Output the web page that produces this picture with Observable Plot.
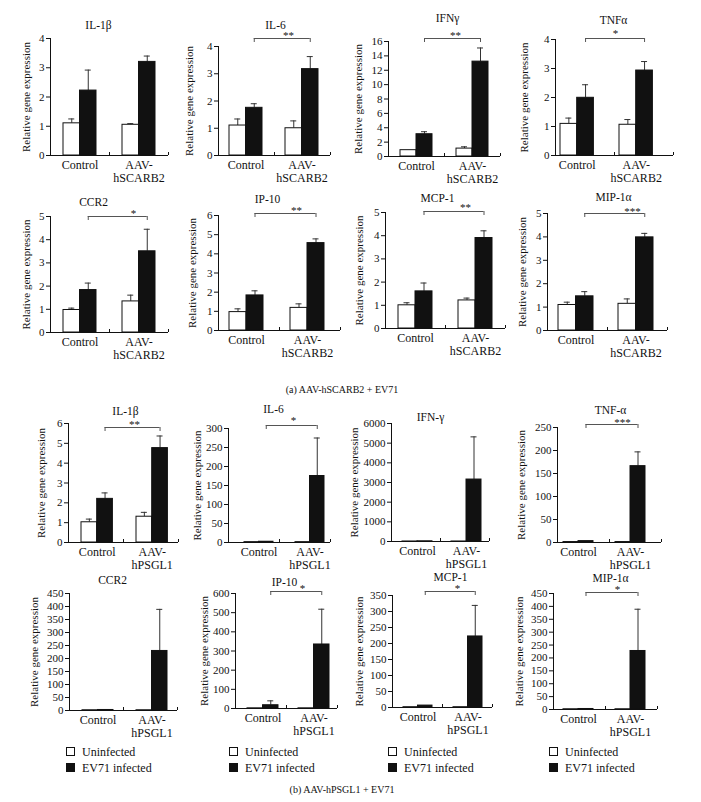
<!DOCTYPE html>
<html><head><meta charset="utf-8">
<script src="https://cdn.jsdelivr.net/npm/d3@7"></script>
<script src="https://cdn.jsdelivr.net/npm/@observablehq/plot@0.6"></script>
<style>
body{margin:0;background:#fff;}
#fig{position:relative;width:701px;height:802px;background:#fff;font-family:"Liberation Serif","Times New Roman",serif;color:#111;overflow:hidden}
#fig svg{position:absolute;overflow:visible}
.caption{position:absolute;font-size:10px;line-height:12px;width:240px;text-align:center}
.legend{position:absolute;font-size:12px;line-height:16px;white-space:nowrap}
.sw{display:inline-block;width:7px;height:7px;border:1px solid #111;margin-right:7px;vertical-align:0px}
</style></head><body><div id="fig"></div>
<script>
// ---------- data ----------
const conditions = ["Uninfected", "EV71 infected"];
const groupsA = ["Control", "AAV-hSCARB2"];
const groupsB = ["Control", "AAV-hPSGL1"];
const genesA = ["IL-1β", "IL-6", "IFNγ", "TNFα", "CCR2", "IP-10", "MCP-1", "MIP-1α"];
const genesB = ["IL-1β", "IL-6", "IFN-γ", "TNF-α", "CCR2", "IP-10", "MCP-1", "MIP-1α"];

// (a) AAV-hSCARB2 + EV71 : bar means and error-bar tops
const aCtrlUninf    = [1.10, 1.10, 0.88, 1.09, 0.97, 0.96, 1.00, 1.09];
const aCtrlUninfErr = [1.25, 1.34, 0.88, 1.29, 1.05, 1.13, 1.11, 1.21];
const aCtrlInf      = [2.22, 1.75, 3.10, 1.99, 1.83, 1.83, 1.60, 1.46];
const aCtrlInfErr   = [2.92, 1.90, 3.45, 2.44, 2.13, 2.07, 1.96, 1.66];
const aAavUninf     = [1.05, 1.00, 1.10, 1.06, 1.34, 1.18, 1.21, 1.14];
const aAavUninfErr  = [1.09, 1.27, 1.35, 1.24, 1.61, 1.39, 1.31, 1.35];
const aAavInf       = [3.20, 3.17, 13.2, 2.93, 3.50, 4.56, 3.90, 3.98];
const aAavInfErr    = [3.40, 3.63, 15.1, 3.24, 4.45, 4.78, 4.21, 4.15];
const aYMax  = [4, 4, 16, 4, 5, 6, 5, 5];
const aYStep = [1, 1, 2, 1, 1, 1, 1, 1];
const aSig   = ["", "**", "**", "*", "*", "**", "**", "***"];

// (b) AAV-hPSGL1 + EV71
const bCtrlUninf    = [1.02, 1, 1, 1, 1, 1, 1, 1];
const bCtrlUninfErr = [1.18, 1, 1, 1, 1, 1, 1, 1];
const bCtrlInf      = [2.20, 2, 10, 3, 2, 17, 6, 2];
const bCtrlInfErr   = [2.50, 2, 10, 3, 2, 40, 6, 2];
const bAavUninf     = [1.30, 1, 1, 1, 1, 1, 1, 1];
const bAavUninfErr  = [1.52, 1, 1, 1, 1, 1, 1, 1];
const bAavInf       = [4.76, 175, 3150, 166, 229, 334, 222, 227];
const bAavInfErr    = [5.37, 275, 5320, 197, 389, 518, 319, 389];
const bYMax  = [6, 300, 6000, 250, 450, 600, 350, 450];
const bYStep = [1, 50, 1000, 50, 50, 100, 50, 50];
const bSig   = ["**", "*", "", "***", "", "*", "*", "*"];

const yLabel = "Relative gene expression";
const captionA = "(a)  AAV-hSCARB2 + EV71";
const captionB = "(b)  AAV-hPSGL1 + EV71";

// ---------- layout (pixels) ----------
// [axisX, topY, zeroY, groupW, gap, barW, titleX, titleDy, bracketDy, labelOffset, starX, starDy]
const layoutA = [
  [50, 38, 155, 59, 13, 16.5, 48, -13, 0, 28, 0, 0],
  [218, 46, 155, 56, 11, 16.5, 57, -21, -8, 33, 70, -11],
  [388, 41, 156, 56, 12, 16, 59, -23, -3, 34, 67, -6],
  [555, 39, 155, 59, 5, 16.7, 58, -19, -1, 35, 60, -6],
  [50, 216, 332, 59, 13, 16.5, 43, -14, 0, 28, 83, -3],
  [218, 215, 330, 61, 11, 17, 49, -16, -2, 30, 78, -5],
  [385, 212, 328, 60, 13, 17, 52, -14, -1, 30, 80, -5],
  [547, 213, 330, 60, 11, 17.5, 66, -16, 0, 29, 85, -2]
];
const layoutB = [
  [68, 423, 542, 55, 13, 15.7, 57, -12, 4, 31, 66, 1],
  [228, 428, 542, 51, 16, 14.5, 45, -19, -3, 35, 65, -8],
  [391, 423, 541, 49, 11, 15, 39, -6, 0, 41, 0, 0],
  [557, 427, 542, 52, 6, 15, 53, -17, -3, 40, 65, -5],
  [69, 593, 710, 54, 13, 15.5, 43, -13, 0, 39, 0, 0],
  [235, 593, 708, 51, 12, 15.5, 49, -11, -2, 35, 67, -5],
  [392, 595, 707, 50, 11, 14.5, 58, -18, -4, 37, 65, -7],
  [553, 593, 709, 52, 10, 15, 57, -15, -1, 38, 64, -4]
];
const legendX = [70, 233, 392, 553];

const fig = document.getElementById("fig");

function drawPanel(gene, groups, vals, errs, yMax, yStep, sig, L) {
  const [axisX, topY, botY, W, g, bw, tdx, tdy, bdy, lo, sx, sdy] = L;
  const mL = 60, mR = 20, mT = 40, mB = 40;
  const width = mL + 2 * W + mR, height = mT + (botY - topY) + mB;
  const rows = [];
  groups.forEach((grp, gi) => conditions.forEach((c, ci) =>
    rows.push({group: grp, cond: c, value: vals[gi * 2 + ci], err: errs[gi * 2 + ci]})));
  const uninf = rows.filter(d => d.cond === conditions[0]);
  const inf = rows.filter(d => d.cond === conditions[1]);
  const eU = uninf.filter(d => d.err > d.value);
  const eI = inf.filter(d => d.err > d.value);
  const cU = g + bw / 2, cI = g + 1.5 * bw;
  const marks = [
    Plot.ruleY([0], {stroke: "#111"}),
    Plot.ruleX(groups, {x: d => d, y1: () => 0, y2: () => 0, insetBottom: 3, dx: W / 2, stroke: "#111"}),
    Plot.ruleX(eU, {x: "group", y1: "value", y2: "err", dx: cU - W / 2, stroke: "#333"}),
    Plot.ruleX(eI, {x: "group", y1: "value", y2: "err", dx: cI - W / 2, stroke: "#333"}),
    Plot.tickY(eU, {x: "group", y: "err", insetLeft: cU - 3, insetRight: W - cU - 3, stroke: "#333"}),
    Plot.tickY(eI, {x: "group", y: "err", insetLeft: cI - 3, insetRight: W - cI - 3, stroke: "#333"}),
    Plot.barY(uninf, {x: "group", y: "value", fill: "white", stroke: "#111", insetLeft: g, insetRight: W - g - bw}),
    Plot.barY(inf, {x: "group", y: "value", fill: "#111", stroke: "#111", insetLeft: g + bw, insetRight: W - g - 2 * bw}),
    Plot.text(groups, {x: d => d, frameAnchor: "bottom", text: d => d.replace("-", "-\n"),
      lineAnchor: "top", lineHeight: 1.05, dy: 5, dx: g + bw - W / 2, fontSize: 12, fill: "#111"}),
    Plot.text([gene], {frameAnchor: "top", dx: tdx - W, dy: tdy, lineAnchor: "middle", fontSize: 11.5, fill: "#111"})
  ];
  if (sig) {
    marks.push(
      Plot.tickY([groups[0]], {x: d => d, y: () => yMax, insetLeft: cI, insetRight: 0, dy: bdy, stroke: "#555"}),
      Plot.tickY([groups[1]], {x: d => d, y: () => yMax, insetLeft: 0, insetRight: W - cI, dy: bdy, stroke: "#555"}),
      Plot.ruleX(groups, {x: d => d, y1: () => yMax, y2: () => yMax, insetBottom: -4, dx: cI - W / 2, dy: bdy, stroke: "#555"}),
      Plot.text([sig], {frameAnchor: "top", y: () => yMax, dx: sx - W, dy: sdy, lineAnchor: "middle", fontSize: 11, fill: "#111"})
    );
  }
  const svg = Plot.plot({
    width, height, marginLeft: mL, marginRight: mR, marginTop: mT, marginBottom: mB,
    style: {fontFamily: "Liberation Serif, Times New Roman, serif", fontSize: "11px", background: "transparent", color: "#111", overflow: "visible"},
    x: {type: "band", domain: groups, paddingInner: 0, paddingOuter: 0, axis: null},
    y: {domain: [0, yMax], ticks: d3.range(0, yMax + yStep / 2, yStep), tickFormat: d3.format("d"),
        tickSize: 4, tickPadding: 2, line: true, label: yLabel, labelAnchor: "center", labelOffset: lo, labelArrow: "none"},
    marks
  });
  svg.style.left = (axisX - mL) + "px";
  svg.style.top = (topY - mT) + "px";
  fig.appendChild(svg);
}

for (let i = 0; i < 8; i++) {
  drawPanel(genesA[i], groupsA,
    [aCtrlUninf[i], aCtrlInf[i], aAavUninf[i], aAavInf[i]],
    [aCtrlUninfErr[i], aCtrlInfErr[i], aAavUninfErr[i], aAavInfErr[i]],
    aYMax[i], aYStep[i], aSig[i], layoutA[i]);
  drawPanel(genesB[i], groupsB,
    [bCtrlUninf[i], bCtrlInf[i], bAavUninf[i], bAavInf[i]],
    [bCtrlUninfErr[i], bCtrlInfErr[i], bAavUninfErr[i], bAavInfErr[i]],
    bYMax[i], bYStep[i], bSig[i], layoutB[i]);
}

// legends
legendX.forEach(x => {
  const div = document.createElement("div");
  div.className = "legend";
  div.style.left = (x - 4) + "px";
  div.style.top = "744px";
  div.innerHTML = conditions.map((c, i) =>
    `<div><span class="sw" style="background:${i ? "#111" : "#fff"}"></span>${c}</div>`).join("");
  fig.appendChild(div);
});

// captions
[[captionA, 384], [captionB, 784]].forEach(([t, y]) => {
  const div = document.createElement("div");
  div.className = "caption";
  div.style.left = "222px";
  div.style.top = y + "px";
  div.textContent = t;
  fig.appendChild(div);
});
</script></body></html>
